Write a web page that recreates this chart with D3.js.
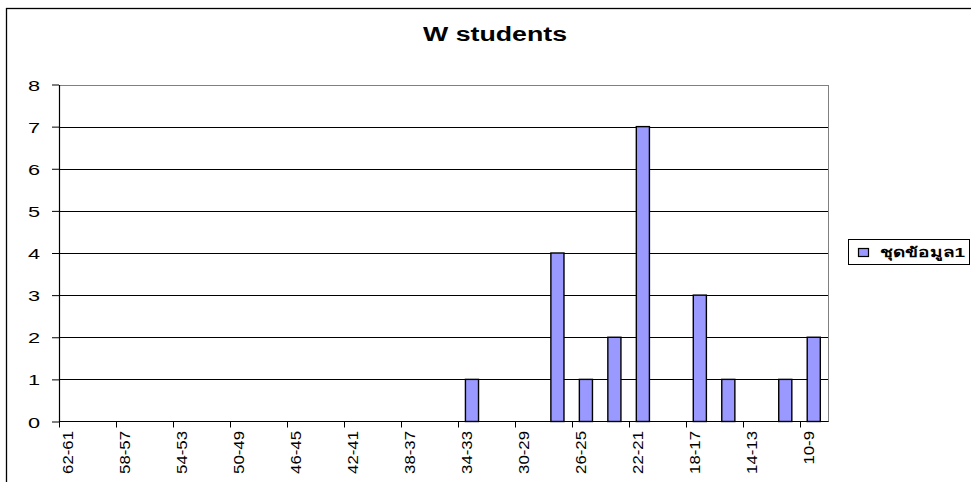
<!DOCTYPE html>
<html><head><meta charset="utf-8">
<script src="https://cdn.jsdelivr.net/npm/d3@7"></script>
<style>
html,body{margin:0;padding:0;background:#fff;overflow:hidden}
text{font-family:Arial,"Liberation Sans","Noto Sans","DejaVu Sans",sans-serif;fill:#000}
</style></head>
<body>
<svg id="c" width="971" height="482"></svg>
<script>
const title = "W students";
const seriesName = "ชุดข้อมูล1";
const categories = ["62-61","60-59","58-57","56-55","54-53","52-51","50-49","48-47","46-45","44-43","42-41","40-39","38-37","36-35","34-33","32-31","30-29","28-27","26-25","24-23","22-21","20-19","18-17","16-15","14-13","12-11","10-9"];
const values = [0,0,0,0,0,0,0,0,0,0,0,0,0,0,1,0,0,4,1,2,7,0,3,1,0,1,2];
const yTicks = [0,1,2,3,4,5,6,7,8];
const xTickLabels = ["62-61","58-57","54-53","50-49","46-45","42-41","38-37","34-33","30-29","26-25","22-21","18-17","14-13","10-9"];

const svg = d3.select("#c");
const L = 59, R = 828, T = 84.5, B = 421.5;

// outer chart border
svg.append("rect").attr("x",6.5).attr("y",8.5).attr("width",1200).attr("height",1200)
  .attr("fill","none").attr("stroke","#000").attr("stroke-width",1.3);

const x = d3.scaleBand().domain(categories).range([L,R]).paddingInner(0).paddingOuter(0);
const y = d3.scaleLinear().domain([0,8]).range([B,T]);

// gridlines
svg.append("g").selectAll("line").data(yTicks.filter(v=>v>0 && v<8)).join("line")
  .attr("x1",L).attr("x2",R).attr("y1",d=>Math.round(y(d))+0.5).attr("y2",d=>Math.round(y(d))+0.5)
  .attr("stroke","#000").attr("stroke-width",1).attr("shape-rendering","crispEdges");

// plot border top & right (gray)
svg.append("path").attr("d",`M${L},${Math.round(T)+0.5}H${R+0.5}V${B}`)
  .attr("fill","none").attr("stroke","#808080").attr("stroke-width",1.5).attr("shape-rendering","crispEdges");

// bars
const bw = x.bandwidth()*0.46;
svg.append("g").selectAll("rect").data(categories.map((c,i)=>({c,v:values[i]})).filter(d=>d.v>0)).join("rect")
  .attr("x",d=>x(d.c)+x.bandwidth()/2-bw/2).attr("width",bw)
  .attr("y",d=>y(d.v)).attr("height",d=>y(0)-y(d.v))
  .attr("fill","#9999FF").attr("stroke","#000").attr("stroke-width",1.4);

// y axis
const ya = svg.append("g").attr("transform",`translate(${L},0)`)
  .call(d3.axisLeft(y).tickValues(yTicks).tickSize(7).tickPadding(0).tickSizeOuter(0));
ya.select(".domain").attr("stroke","#000").attr("stroke-width",1.2);
ya.selectAll(".tick line").attr("stroke","#000");
ya.selectAll(".tick text").attr("x",null).attr("dy",null)
  .attr("transform","translate(-19,5.5) scale(1.45,1)")
  .attr("text-anchor","end").style("font-size","15px").style("font-family","Arial,'Liberation Sans',sans-serif");

// x axis line
svg.append("line").attr("x1",L).attr("x2",R+0.5).attr("y1",B).attr("y2",B)
  .attr("stroke","#000").attr("stroke-width",1.2);
// x ticks at left boundary of labelled categories
svg.append("g").selectAll("line").data(xTickLabels).join("line")
  .attr("x1",d=>Math.round(x(d))+0.5).attr("x2",d=>Math.round(x(d))+0.5)
  .attr("y1",B).attr("y2",B+6).attr("stroke","#000").attr("stroke-width",1);
// x labels
svg.append("g").selectAll("text").data(xTickLabels).join("text")
  .attr("transform",d=>`translate(${x(d)+x.bandwidth()/2-5.5},431) rotate(-90) scale(1.12,1)`)
  .attr("text-anchor","end").attr("dy","0.36em")
  .style("font-size","15px")
  .text(d=>d);

// title
svg.append("text").attr("x",495).attr("y",41).attr("text-anchor","middle")
  .attr("textLength",144).attr("lengthAdjust","spacingAndGlyphs")
  .style("font-size","20px").style("font-weight","bold").text(title);

// legend
const lg = svg.append("g");
lg.append("rect").attr("x",848.5).attr("y",239.5).attr("width",121).attr("height",25)
  .attr("fill","#fff").attr("stroke","#000").attr("stroke-width",1);
lg.append("rect").attr("x",858.5).attr("y",248.5).attr("width",10).attr("height",8)
  .attr("fill","#9999FF").attr("stroke","#000").attr("stroke-width",1.2);
lg.append("text").attr("x",880).attr("y",257).attr("textLength",85).attr("lengthAdjust","spacingAndGlyphs")
  .style("font-size","13px").style("font-weight","bold").text(seriesName);
</script>
</body></html>
